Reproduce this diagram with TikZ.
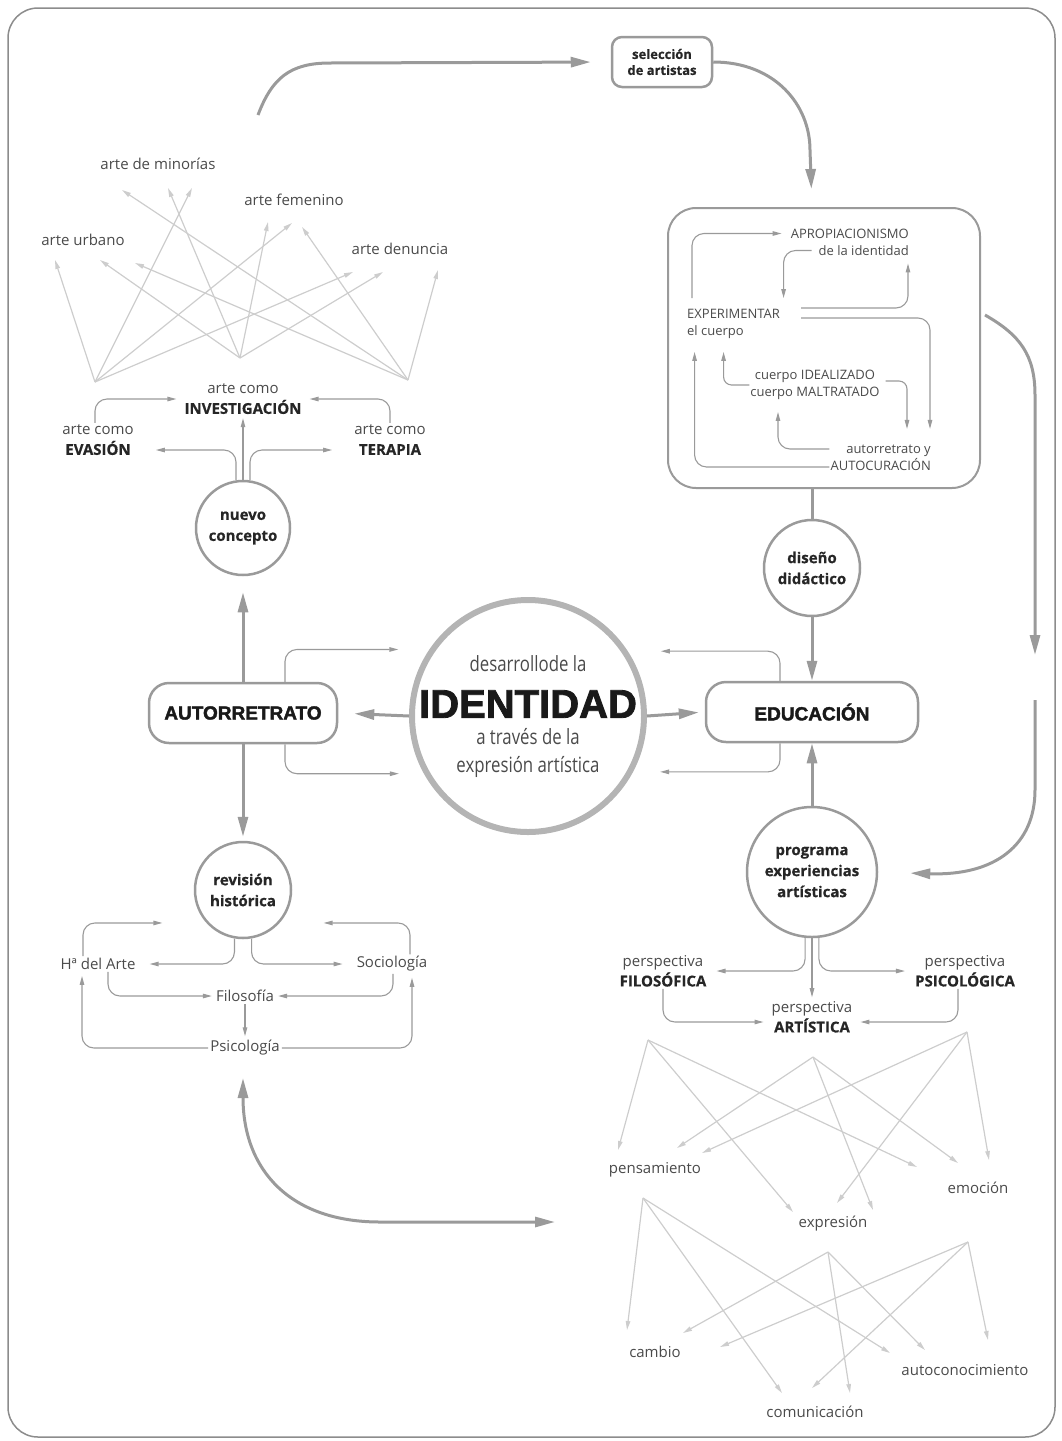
\documentclass[tikz,border=0pt]{standalone}
\usepackage{fontspec}
\setmainfont{Open Sans}[BoldFeatures={FakeBold=0.6}]
\newfontfamily\heavyfont{Liberation Sans}[BoldFeatures={FakeBold=2}]
\newfontfamily\condfont{Open Sans}[FakeStretch=0.8]
\usetikzlibrary{arrows.meta, positioning}

\definecolor{linegray}{HTML}{9A9A9A}
\definecolor{webgray}{HTML}{CDCDCD}
\definecolor{textgray}{HTML}{4A4A4A}
\definecolor{ringgray}{HTML}{B4B4B4}
\definecolor{framegray}{HTML}{8C8C8C}

\newcommand{\kw}[1]{{\color{black!85}\bfseries #1}}

\tikzset{
  lbl/.style={text=textgray, font=\fontsize{15}{20}\selectfont, inner sep=2pt, align=center},
  boxlbl/.style={text=textgray, font=\fontsize{13}{17}\selectfont, inner sep=1pt},
  bubble/.style={circle, draw=linegray, line width=2.5pt, fill=white, align=center,
    font=\fontsize{15}{21}\selectfont\bfseries, text=black!85, minimum size=96pt, inner sep=0pt},
  pill/.style={draw=linegray, line width=2.5pt, rounded corners=20pt, minimum height=60pt,
    fill=white, font=\fontsize{19}{22}\heavyfont\bfseries, text=black!90},
  thinarr/.style={draw=linegray, line width=1.1pt, -{Triangle[length=9pt,width=4.5pt]}, rounded corners=12pt},
  thickarr/.style={draw=linegray, line width=3pt, -{Triangle[length=20pt,width=10pt]}},
  webarr/.style={draw=webgray, line width=1.2pt, -{Triangle[length=9pt,width=4.5pt]}},
}

\begin{document}
\begin{tikzpicture}[x=1pt, y=-1pt]
  \useasboundingbox (0,0) rectangle (1061,1441);
  % Frame
  \draw[framegray, line width=1.5pt, rounded corners=30pt] (8,8) rectangle (1055,1437);

  % Centre
  \node[circle, draw=ringgray, line width=6pt, minimum size=232pt] (hub) at (528,716) {};
  \node[font=\fontsize{21}{24}\condfont, text=textgray] (hubtop) at (528,664) {desarrollode la};
  \node[font=\fontsize{40}{44}\heavyfont\bfseries, text=black!90] (hubmid) at (528,704) {IDENTIDAD};
  \node[font=\fontsize{21}{28}\condfont, text=textgray, align=center] (hubbot) at (528,753) {a través de la\\expresión artística};

  % Left column
  \node[pill, minimum width=188pt] (aut) at (243,713) {AUTORRETRATO};
  \node[bubble, minimum size=94pt] (nuevo) at (243,528) {nuevo\\concepto};
  \node[bubble] (rev) at (243,890) {revisión\\histórica};

  % Right column
  \node[pill, minimum width=212pt] (edu) at (812,712) {EDUCACIÓN};
  \node[bubble] (dis) at (812,568) {diseño\\didáctico};
  \node[bubble, minimum size=130pt] (prog) at (812,872) {programa\\experiencias\\artísticas};
  \node[draw=linegray, line width=2.5pt, rounded corners=10pt, minimum width=100pt, minimum height=50pt,
    font=\fontsize{13}{16}\selectfont\bfseries, text=black!85, align=center, inner sep=0pt] (sel) at (662,62) {selección\\de artistas};
  \node[draw=linegray, line width=2pt, rounded corners=28pt, minimum width=312pt, minimum height=280pt] (expbox) at (824,348) {};

  % Labels of the art branches
  \node[lbl] (minor) at (158,164) {arte de minorías};
  \node[lbl] (femen) at (294,200) {arte femenino};
  \node[lbl] (urban) at (83,240) {arte urbano};
  \node[lbl] (denun) at (400,249) {arte denuncia};
  \node[lbl] (inv) at (243,399) {arte como\\\kw{INVESTIGACIÓN}};
  \node[lbl] (evs) at (98,440) {arte como\\\kw{EVASIÓN}};
  \node[lbl] (ter) at (390,440) {arte como\\\kw{TERAPIA}};

  % Labels inside the box
  \node[boxlbl, align=right, anchor=east] (apro) at (910,242) {APROPIACIONISMO\\de la identidad};
  \node[boxlbl, align=left, anchor=west] (exper) at (686,324) {EXPERIMENTAR\\el cuerpo};
  \node[boxlbl, align=center] (cuerpo) at (815,385) {cuerpo IDEALIZADO\\cuerpo MALTRATADO};
  \node[boxlbl, align=right, anchor=east] (autoc) at (932,458) {autorretrato y\\AUTOCURACIÓN};

  % Labels of the history branch
  \node[lbl] (hart) at (98,964) {Hª del Arte};
  \node[lbl] (socio) at (392,964) {Sociología};
  \node[lbl] (filo) at (245,996) {Filosofía};
  \node[lbl] (psico) at (245,1048) {Psicología};

  % Labels of the programme branch
  \node[lbl] (pfil) at (663,971) {perspectiva\\\kw{FILOSÓFICA}};
  \node[lbl] (part) at (812,1017) {perspectiva\\\kw{ARTÍSTICA}};
  \node[lbl] (ppsi) at (965,971) {perspectiva\\\kw{PSICOLÓGICA}};
  \node[lbl] (pens) at (655,1170) {pensamiento};
  \node[lbl] (emoc) at (978,1188) {emoción};
  \node[lbl] (expr) at (833,1224) {expresión};
  \node[lbl] (camb) at (655,1352) {cambio};
  \node[lbl] (comu) at (815,1412) {comunicación};
  \node[lbl] (autoco) at (965,1370) {autoconocimiento};

  % Web of art branches
  \coordinate (wevs) at (95,382);
  \coordinate (winv) at (240,358);
  \coordinate (wter) at (408,380);
  \foreach \s/\t/\x/\y in {wevs/ta/55/260, winv/tb/100/260, wter/tc/135/263, wter/td/122/190,
      winv/te/168/188, wevs/tf/192/188, winv/tg/268/222, wevs/th/292/223, wter/ti/302/227,
      wevs/tj/353/272, winv/tk/383/272, wter/tl/438/270} {
    \coordinate (\t) at (\x,\y);
    \draw[webarr] (\s) -- (\t);
  }

  % Web of perspectives
  \coordinate (wfil) at (648,1040);
  \coordinate (wart) at (813,1057);
  \coordinate (wpsi) at (967,1032);
  \coordinate (wpen) at (643,1198);
  \coordinate (wexp) at (828,1252);
  \coordinate (wemo) at (968,1242);
  \foreach \s/\t/\x/\y in {wfil/ua/618/1150, wart/ub/677/1148, wpsi/uc/702/1153,
      wfil/ud/917/1167, wart/ue/958/1163, wpsi/uf/989/1160,
      wfil/ug/793/1212, wpsi/uh/837/1203, wart/ui/873/1210,
      wpen/uj/627/1330, wexp/uk/683/1333, wemo/ul/720/1347,
      wpen/um/782/1393, wemo/un/812/1388, wexp/uo/850/1393,
      wpen/up/890/1353, wexp/uq/925/1350, wemo/ur/988/1340} {
    \coordinate (\t) at (\x,\y);
    \draw[webarr] (\s) -- (\t);
  }

  % Main connectors
  \draw[thickarr, shorten >=16pt] (hub.west) -- (aut.east);
  \draw[thickarr, shorten >=6pt] (hub.east) -- (edu.west);
  \draw[thickarr, shorten >=16pt] (aut.north) -- (nuevo.south);
  \draw[thickarr, shorten >=4pt] (aut.south) -- (rev.north);
  \draw[thickarr] (dis.south) -- (edu.north);
  \draw[thickarr] (prog.north) -- (edu.south);
  \draw[linegray, line width=3pt] (expbox.south -| dis) -- (dis.north);

  % Outer loop
  \coordinate (topstart) at (258,115);
  \draw[thickarr, shorten >=20pt] (topstart) .. controls (272,78) and (290,63) .. (330,63) -- (sel.west);
  \draw[thickarr, shorten >=18pt] (sel.east) .. controls (775,62) and (810,105) .. (810,150) -- (expbox.north -| dis);
  \coordinate (rstart) at (985,315);
  \coordinate (rend) at (1035,655);
  \draw[thickarr] (rstart) .. controls (1020,335) and (1035,355) .. (1035,395) -- (rend);
  \coordinate (rmid) at (1035,700);
  \draw[thickarr, shorten >=32pt] (rmid) -- (1035,790) .. controls (1035,845) and (995,876) .. (prog.east);
  \coordinate (la) at (243,1078);
  \coordinate (lb) at (555,1222);
  \draw[thickarr, {Triangle[length=20pt,width=10pt]}-{Triangle[length=20pt,width=10pt]}] (la) .. controls (243,1170) and (290,1222) .. (380,1222) -- (lb);

  % Loops round the centre
  \draw[thinarr, shorten >=31pt] ([xshift=42pt]aut.north) |- (hub.146.3);
  \draw[thinarr, shorten >=25pt] ([xshift=42pt]aut.south) |- (hub.-151.9);
  \draw[thinarr, shorten >=33pt] ([xshift=-32pt]edu.north) |- (hub.33.7);
  \draw[thinarr, shorten >=27pt] ([xshift=-32pt]edu.south) |- (hub.-28.1);

  % New concept branches
  \draw[thinarr, shorten >=20pt] ([xshift=-7pt]nuevo.north) |- ([yshift=-10pt]evs.east);
  \draw[thinarr, shorten >=2pt] (nuevo.north) -- (inv.south);
  \draw[thinarr, shorten >=20pt] ([xshift=7pt]nuevo.north) |- ([yshift=-10pt]ter.west);
  \draw[thinarr, shorten >=6pt] ([xshift=-3pt]evs.north) |- (inv.west);
  \draw[thinarr, shorten >=6pt] (ter.north) |- (inv.east);

  % History branches
  \draw[thinarr, shorten >=12pt] (rev.-100) |- (hart.east);
  \draw[thinarr, shorten >=12pt] (rev.-80) |- (socio.west);
  \draw[thinarr, shorten >=44pt] ([xshift=-15pt]hart.north) |- (rev.-138);
  \draw[thinarr, shorten >=44pt] ([xshift=18pt]socio.north) |- (rev.-42);
  \draw[thinarr, shorten >=2pt] ([xshift=10pt]hart.south) |- (filo.west);
  \draw[thinarr, shorten >=2pt] ([xshift=1pt]socio.south) |- (filo.east);
  \draw[thinarr, shorten >=2pt] (filo.south) -- (psico.north);
  \draw[thinarr, shorten >=4pt] (psico.west) -| ([xshift=-16pt]hart.south);
  \draw[thinarr, shorten >=4pt] (psico.east) -| ([xshift=20pt]socio.south);

  % Programme branches
  \draw[thinarr, shorten >=8pt] (prog.-96) |- (pfil.east);
  \draw[thinarr, shorten >=2pt] (prog.south) -- (part.north);
  \draw[thinarr, shorten >=8pt] (prog.-84) |- (ppsi.west);
  \draw[thinarr, shorten >=6pt] (pfil.south) |- ([yshift=-5pt]part.west);
  \draw[thinarr, shorten >=6pt] ([xshift=-7pt]ppsi.south) |- ([yshift=-5pt]part.east);

  % Loops inside the box
  \draw[thinarr, shorten >=8pt] ([xshift=6pt,yshift=10pt]exper.north west) |- ([yshift=8.5pt]apro.west);
  \draw[thinarr, shorten >=10pt] ([xshift=22pt,yshift=-8.5pt]apro.west) -| ([xshift=50pt]exper.north);
  \draw[thinarr, shorten >=7pt] ([xshift=20pt,yshift=16pt]exper.east) -| ([xshift=-2pt]apro.south east);
  \draw[thinarr, shorten >=15pt] ([xshift=20pt,yshift=6pt]exper.east) -| ([xshift=-2pt]autoc.north east);
  \draw[thinarr, rounded corners=8pt, shorten >=15pt] ([xshift=5pt,yshift=4pt]cuerpo.east) -| ([xshift=-25pt]autoc.north east);
  \draw[thinarr, rounded corners=8pt, shorten >=12pt] (cuerpo.west) -| ([xshift=-10pt]exper.south);
  \draw[thinarr, shorten >=11pt] ([yshift=9pt]autoc.west) -| ([xshift=-37pt]cuerpo.south);
  \draw[thinarr, shorten >=12pt] ([yshift=-9pt]autoc.west) -| ([xshift=-39pt]exper.south);
\end{tikzpicture}
\end{document}
